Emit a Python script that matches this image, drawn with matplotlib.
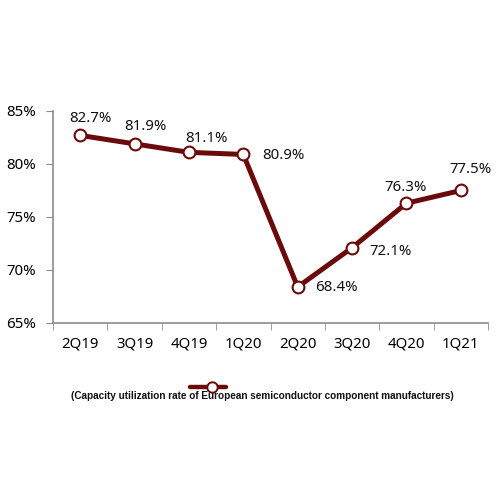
import matplotlib
matplotlib.use("Agg")
import matplotlib.pyplot as plt
from matplotlib.lines import Line2D
from matplotlib.ticker import FuncFormatter, FixedLocator

quarters = ["2Q19", "3Q19", "4Q19", "1Q20", "2Q20", "3Q20", "4Q20", "1Q21"]
utilization = [82.7, 81.9, 81.1, 80.9, 68.4, 72.1, 76.3, 77.5]
# label offsets in pixels (dx, dy), as placed in the original
label_offsets = [(10, 17), (11, 17), (18, 14), (40, -1), (39, -1), (38, -4), (-1, 16), (10, 21)]
legend_label = "(Capacity utilization rate of European semiconductor component manufacturers)"

COLOR = "#6b0a0a"
AXIS = "#8c8c8c"
plt.rcParams["font.family"] = ["Noto Sans", "DejaVu Sans"]

fig = plt.figure(figsize=(5, 5), dpi=100)
ax = fig.add_axes([0.106, 0.354, 0.87, 0.424])

x = list(range(len(quarters)))
ax.plot(x, utilization, color=COLOR, lw=3.6, marker="o", ms=8.5,
        mfc="white", mec=COLOR, mew=1.5, solid_joinstyle="round", zorder=3)

for xi, v, (dx, dy) in zip(x, utilization, label_offsets):
    ax.annotate(f"{v:.1f}%", (xi, v), xytext=(dx, dy), textcoords="offset pixels",
                ha="center", va="center", fontsize=10.8, color="#111111")

ax.set_xlim(-0.5, len(quarters) - 0.5)
ax.set_ylim(65, 85)
ax.set_yticks([65, 70, 75, 80, 85])
ax.yaxis.set_major_formatter(FuncFormatter(lambda v, p: f"{v:.0f}%"))
ax.set_xticks(x)
ax.set_xticklabels(quarters)
ax.xaxis.set_minor_locator(FixedLocator([i - 0.5 for i in range(len(quarters) + 1)]))
ax.tick_params(axis="x", which="major", length=0, pad=10, labelsize=10.8)
ax.tick_params(axis="x", which="minor", length=5, color=AXIS, direction="out")
ax.tick_params(axis="y", length=5, color=AXIS, direction="out", labelsize=10.8, pad=7)

for side in ("top", "right"):
    ax.spines[side].set_visible(False)
for side in ("left", "bottom"):
    ax.spines[side].set_color(AXIS)
    ax.spines[side].set_linewidth(1.2)

# legend: sample line above its caption
fig.add_artist(Line2D([0.38, 0.452], [0.227, 0.227], color=COLOR, lw=3.2,
                      solid_capstyle="round", transform=fig.transFigure))
fig.add_artist(Line2D([0.424], [0.227], marker="o", ms=7.5, mfc="white", mec=COLOR,
                      mew=1.4, transform=fig.transFigure))
fig.text(0.524, 0.208, legend_label, ha="center", va="center", fontsize=7.2,
         fontweight="bold", family=["Liberation Sans", "DejaVu Sans"], color="#111111")

fig.savefig("out.png", dpi=100)
